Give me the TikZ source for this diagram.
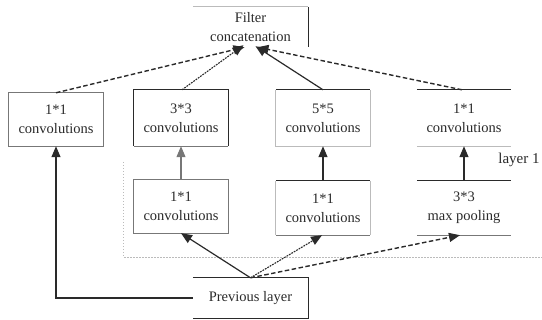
\documentclass[tikz,border=0pt]{standalone}
\usepackage{fontspec}
\setmainfont{Liberation Serif}
\usetikzlibrary{arrows.meta}
\definecolor{dk}{HTML}{2A2A2A}
\definecolor{md}{HTML}{777777}
\definecolor{lt}{HTML}{BBBBBB}
\begin{document}
\begin{tikzpicture}[x=1pt,y=-1pt,
  box/.style={minimum width=94pt,minimum height=55pt,inner sep=0pt,align=center,
    font=\fontsize{14.5}{19}\selectfont,text=dk},
  wide/.style={box,minimum width=115pt,minimum height=40pt},
  edgeD/.style={draw=dk,line width=1.2pt},
  edgeM/.style={draw=md,line width=1.1pt},
  edgeL/.style={draw=lt,line width=1pt},
  tip/.style={-{Triangle[length=11pt,width=9pt]}},
  solidarr/.style={tip,draw=dk,line width=1.2pt},
  dasharr/.style={tip,draw=dk,line width=1.4pt,dash pattern=on 4.5pt off 2.5pt},
  dotarr/.style={tip,draw=dk,line width=1.1pt,dash pattern=on 1.8pt off 1pt},
  grayarr/.style={tip,draw=md,line width=1.1pt}]
\useasboundingbox (0,0) rectangle (542,320);

% nodes
\node[wide] (filt) at (250.5,27) {Filter\\concatenation};
\node[box,minimum height=53pt] (c1) at (56,119.5) {1*1\\convolutions};
\node[box,minimum height=56pt] (c3) at (181,118) {3*3\\convolutions};
\node[box,minimum height=56pt] (c5) at (323,118) {5*5\\convolutions};
\node[box,minimum height=56pt] (c1r) at (464,118) {1*1\\convolutions};
\node[box,minimum height=53pt] (r1) at (181,206.5) {1*1\\convolutions};
\node[box,minimum height=54pt] (r2) at (323,208) {1*1\\convolutions};
\node[box,minimum height=54pt] (mp) at (464,208) {3*3\\max pooling};
\node[wide] (prev) at (250.5,298) {Previous layer};
\node[font=\fontsize{15}{18}\selectfont,text=dk,inner sep=0pt] (lay) at (519,160) {layer 1};

% box edges
\draw[edgeL] (filt.north west) -- (filt.north east);
\draw[edgeD] (filt.north east) -- (filt.south east);

\draw[edgeM] (c1.north west) rectangle (c1.south east);

\draw[edgeD] (c3.south west) -- (c3.north west) -- (c3.north east) -- (c3.south east);
\draw[edgeM] (c3.south west) -- (c3.south east);

\draw[edgeL] (c5.north west) -- (c5.south west) -- (c5.south east) -- (c5.north east);
\draw[edgeD] (c5.north west) -- (c5.north east);

\draw[edgeD] (c1r.north west) -- (c1r.north east);
\draw[edgeL] (c1r.south west) -- (c1r.south east);

\draw[edgeM] (r1.north west) rectangle (r1.south east);

\draw[edgeL] (r2.north west) -- (r2.south west);
\draw[edgeL] (r2.north east) -- (r2.south east);
\draw[edgeD] (r2.north west) -- (r2.north east);
\draw[edgeM] (r2.south west) -- (r2.south east);

\draw[edgeD] (mp.north west) -- (mp.north east);
\draw[edgeM] (mp.south west) -- (mp.south east);

\draw[edgeD] (prev.north west) -- (prev.north east) -- (prev.south east) -- (prev.south west);

% layer 1 region (dotted)
\coordinate (lt) at (123,162);
\coordinate (lb) at (123,257);
\coordinate (rb) at (542,257);
\draw[lt,line width=0.8pt,dash pattern=on 1.5pt off 1.5pt] (lt) -- (lb) -- (rb);

% connectors to concatenation
\draw[dasharr] (c1.north) -- ([xshift=-6pt]filt.south);
\draw[dotarr] ([xshift=1pt]c3.north) -- ([xshift=-7pt,yshift=2pt]filt.south);
\draw[solidarr] (c5.north) -- ([xshift=5pt,yshift=1pt]filt.south);
\draw[dasharr] ([xshift=-2pt]c1r.north) -- ([xshift=7pt]filt.south);

% vertical connectors
\draw[grayarr] (r1.north) -- (c3.south);
\draw[solidarr] (r2.north) -- (c5.south);
\draw[solidarr] (mp.north) -- (c1r.south);

% from previous layer
\draw[solidarr] (prev.north) -- (r1.south);
\draw[dotarr] (prev.north) -- ([xshift=-1pt]r2.south);
\draw[dasharr] (prev.north) -- ([xshift=-4pt]mp.south);
\draw[solidarr] (prev.west) -| (c1.south);
\end{tikzpicture}
\end{document}
